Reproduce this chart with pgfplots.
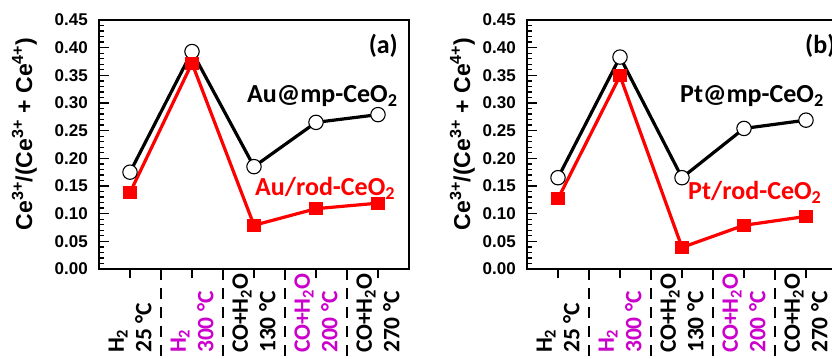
\documentclass[border=0pt]{standalone}
\usepackage{fontspec}
\usepackage{pgfplots}
\pgfplotsset{compat=1.18}
\newfontfamily\arial{Liberation Sans}
\newfontfamily\calib{Carlito}
\definecolor{mag}{RGB}{204,0,204}
\definecolor{myred}{RGB}{255,0,0}
\newcommand\tickfont{\arial\bfseries\fontsize{17bp}{20bp}\selectfont}
\newcommand\ylfont{\arial\bfseries\fontsize{23bp}{27bp}\selectfont}
\newcommand\xfont{\calib\bfseries\fontsize{23.5bp}{27.5bp}\selectfont}
\newcommand\anfont{\calib\bfseries\fontsize{26bp}{30bp}\selectfont}

\pgfplotstableread{
x mp rod
0 0.175 0.138
1 0.393 0.372
2 0.185 0.079
3 0.265 0.109
4 0.279 0.119
}\dataA
\pgfplotstableread{
x mp rod
0 0.165 0.127
1 0.383 0.349
2 0.165 0.039
3 0.254 0.079
4 0.269 0.095
}\dataB

\pgfplotsset{
 panel/.style={
  at={(#1,90bp)}, anchor=south west,
  width=310bp, height=249bp, scale only axis,
  xmin=-0.5, xmax=4.5, ymin=0, ymax=0.45,
  xtick={0,1,2,3,4}, xticklabels={},
  ytick={0,0.05,0.1,0.15,0.2,0.25,0.3,0.35,0.4,0.45},
  yticklabels={0.00,0.05,0.10,0.15,0.20,0.25,0.30,0.35,0.40,0.45},
  minor y tick num=4,
  xtick align=outside, ytick align=inside,
  xtick pos=bottom, ytick pos=left,
  major tick length=9.5bp, minor tick length=5bp,
  tick style={line width=1.3bp, black},
  axis line style={line width=1.6bp},
  yticklabel style={font=\tickfont, inner sep=0pt, xshift=-11bp},
  clip=false,
 },
 mpstyle/.style={black, line width=3.2bp, mark=*, mark size=7.2bp, mark options={fill=white, line width=1.1bp, solid}},
 rodstyle/.style={myred, line width=3.2bp, mark=square*, mark size=5bp, mark options={solid}},
 sepstyle/.style={black, line width=2bp, dash pattern=on 11bp off 8bp, forget plot},
}

\begin{document}
\begin{tikzpicture}
\useasboundingbox (0,0) rectangle (832bp,359bp);
% ---------- panel (a)
\begin{axis}[panel=99bp]
\addplot[mpstyle] table[x=x,y=mp]{\dataA};
\addplot[rodstyle] table[x=x,y=rod]{\dataA};
\addplot[sepstyle] coordinates {(0.5,0) (0.5,-0.17)};
\addplot[sepstyle] coordinates {(1.5,0) (1.5,-0.17)};
\addplot[sepstyle] coordinates {(2.5,0) (2.5,-0.17)};
\addplot[sepstyle] coordinates {(3.5,0) (3.5,-0.17)};
\node[rotate=90, anchor=west, align=left, inner sep=0pt, font=\xfont] at (axis cs:0,-0.152) {H\textsubscript{2}\\25 °C};
\node[rotate=90, anchor=west, align=left, inner sep=0pt, font=\xfont, text=mag] at (axis cs:1,-0.152) {H\textsubscript{2}\\300 °C};
\node[rotate=90, anchor=west, align=left, inner sep=0pt, font=\xfont] at (axis cs:2,-0.152) {CO+H\textsubscript{2}O\\130 °C};
\node[rotate=90, anchor=west, align=left, inner sep=0pt, font=\xfont, text=mag] at (axis cs:3,-0.152) {CO+H\textsubscript{2}O\\200 °C};
\node[rotate=90, anchor=west, align=left, inner sep=0pt, font=\xfont] at (axis cs:4,-0.152) {CO+H\textsubscript{2}O\\270 °C};
\end{axis}
% ---------- panel (b)
\begin{axis}[panel=527bp]
\addplot[mpstyle] table[x=x,y=mp]{\dataB};
\addplot[rodstyle] table[x=x,y=rod]{\dataB};
\addplot[sepstyle] coordinates {(0.5,0) (0.5,-0.17)};
\addplot[sepstyle] coordinates {(1.5,0) (1.5,-0.17)};
\addplot[sepstyle] coordinates {(2.5,0) (2.5,-0.17)};
\addplot[sepstyle] coordinates {(3.5,0) (3.5,-0.17)};
\node[rotate=90, anchor=west, align=left, inner sep=0pt, font=\xfont] at (axis cs:0,-0.152) {H\textsubscript{2}\\25 °C};
\node[rotate=90, anchor=west, align=left, inner sep=0pt, font=\xfont, text=mag] at (axis cs:1,-0.152) {H\textsubscript{2}\\300 °C};
\node[rotate=90, anchor=west, align=left, inner sep=0pt, font=\xfont] at (axis cs:2,-0.152) {CO+H\textsubscript{2}O\\130 °C};
\node[rotate=90, anchor=west, align=left, inner sep=0pt, font=\xfont, text=mag] at (axis cs:3,-0.152) {CO+H\textsubscript{2}O\\200 °C};
\node[rotate=90, anchor=west, align=left, inner sep=0pt, font=\xfont] at (axis cs:4,-0.152) {CO+H\textsubscript{2}O\\270 °C};
\end{axis}
% ---------- texts
\node[rotate=90, anchor=base, inner sep=0pt, font=\ylfont] at (32bp,225bp) {Ce\textsuperscript{3+}/(Ce\textsuperscript{3+} + Ce\textsuperscript{4+})};
\node[rotate=90, anchor=base, inner sep=0pt, font=\ylfont] at (470bp,225bp) {Ce\textsuperscript{3+}/(Ce\textsuperscript{3+} + Ce\textsuperscript{4+})};
\node[anchor=base west, inner sep=0pt, font=\anfont] at (247bp,256bp) {Au@mp-CeO\textsubscript{2}};
\node[anchor=base west, inner sep=0pt, font=\anfont, text=myred] at (255bp,163bp) {Au/rod-CeO\textsubscript{2}};
\node[anchor=base west, inner sep=0pt, font=\anfont] at (680bp,256bp) {Pt@mp-CeO\textsubscript{2}};
\node[anchor=base west, inner sep=0pt, font=\anfont, text=myred] at (688bp,159bp) {Pt/rod-CeO\textsubscript{2}};
\node[anchor=east, inner sep=0pt, font=\anfont] at (398bp,313bp) {(a)};
\node[anchor=west, inner sep=0pt, font=\anfont] at (805bp,313bp) {(b)};
\end{tikzpicture}
\end{document}
